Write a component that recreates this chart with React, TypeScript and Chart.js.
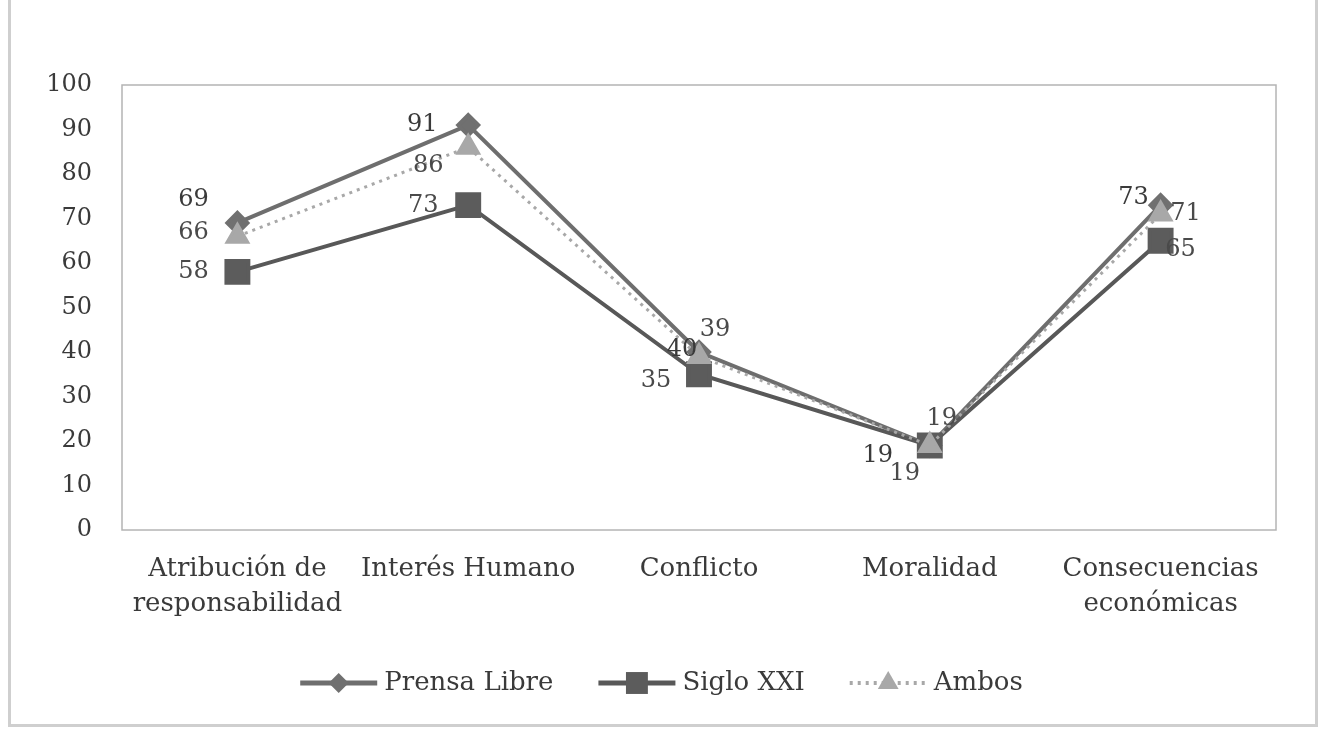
import React, { useEffect, useRef } from 'react';
import { Chart, registerables } from 'chart.js';

Chart.register(...registerables);

const categories: string[][] = [
  ['Atribución de', 'responsabilidad'],
  ['Interés Humano'],
  ['Conflicto'],
  ['Moralidad'],
  ['Consecuencias', 'económicas'],
];
const seriesNames = ['Prensa Libre', 'Siglo XXI', 'Ambos'];
const prensaLibre = [69, 91, 40, 19, 73];
const sigloXXI = [58, 73, 35, 19, 65];
const ambos = [66, 86, 39, 19, 71];
const yMin = 0;
const yMax = 100;
const yStep = 10;

// label offsets (pixels) per series per point, as placed in the reference
const labelOffsets: number[][][] = [
  [[-44, -23], [-46, 0], [-17, -2], [-52, 10], [-27, -7]],
  [[-44, 0], [-45, 1], [-43, 7], [-25, 28], [20, 9]],
  [[-44, -4], [-40, 18], [16, -27], [12, -27], [25, 0]],
];

const FONT = '"DejaVu Serif", "Liberation Serif", serif';
const TEXT = '#3a3a3a';

const frameAndLabels = {
  id: 'frameAndLabels',
  beforeDraw(chart: any) {
    const { ctx, chartArea } = chart;
    ctx.save();
    ctx.fillStyle = '#ffffff';
    ctx.fillRect(0, 0, chart.width, chart.height);
    ctx.strokeStyle = '#cfcfcf';
    ctx.lineWidth = 3;
    ctx.beginPath();
    ctx.moveTo(9.5, 0);
    ctx.lineTo(9.5, 725.5);
    ctx.lineTo(1316.5, 725.5);
    ctx.lineTo(1316.5, 0);
    ctx.stroke();
    ctx.strokeStyle = '#b4b4b4';
    ctx.lineWidth = 1.5;
    ctx.strokeRect(chartArea.left, chartArea.top, chartArea.right - chartArea.left, chartArea.bottom - chartArea.top);
    ctx.restore();
  },
  afterDatasetsDraw(chart: any) {
    const { ctx } = chart;
    ctx.save();
    ctx.font = `24px ${FONT}`;
    ctx.textAlign = 'center';
    ctx.textBaseline = 'middle';
    chart.data.datasets.forEach((ds: any, di: number) => {
      const meta = chart.getDatasetMeta(di);
      meta.data.forEach((pt: any, i: number) => {
        const off = labelOffsets[di][i];
        ctx.fillStyle = ds.labelColor || TEXT;
        ctx.fillText(String(ds.data[i]), pt.x + off[0], pt.y + off[1]);
      });
    });
    ctx.restore();
  },
  afterDraw(chart: any) {
    const { ctx } = chart;
    ctx.save();
    ctx.font = `26px ${FONT}`;
    ctx.textBaseline = 'middle';
    const sampleW = 77;
    const gapText = 7;
    const gapItem = 45;
    const items = chart.data.datasets.map((ds: any) => ({ ds, w: ctx.measureText(ds.label).width }));
    const total = items.reduce((s: number, it: any) => s + sampleW + gapText + it.w, 0) + gapItem * (items.length - 1);
    let x = chart.width / 2 - total / 2;
    const y = 683;
    items.forEach((it: any) => {
      const ds = it.ds;
      ctx.strokeStyle = ds.borderColor;
      ctx.lineWidth = ds.borderWidth + 1;
      ctx.setLineDash(ds.borderDash || []);
      ctx.beginPath();
      ctx.moveTo(x, y);
      ctx.lineTo(x + sampleW, y);
      ctx.stroke();
      ctx.setLineDash([]);
      ctx.fillStyle = ds.pointBackgroundColor;
      drawMarker(ctx, ds.pointStyle, ds.pointRadius, x + sampleW / 2, y);
      ctx.fillStyle = TEXT;
      ctx.textAlign = 'left';
      ctx.fillText(ds.label, x + sampleW + gapText, y);
      x += sampleW + gapText + it.w + gapItem;
    });
    ctx.restore();
  },
};

function drawMarker(ctx: CanvasRenderingContext2D, style: string, r: number, x: number, y: number) {
  ctx.beginPath();
  if (style === 'rect') {
    const s = Math.SQRT1_2 * r;
    ctx.rect(x - s, y - s, 2 * s, 2 * s);
  } else if (style === 'rectRot') {
    ctx.moveTo(x, y - r);
    ctx.lineTo(x + r, y);
    ctx.lineTo(x, y + r);
    ctx.lineTo(x - r, y);
    ctx.closePath();
  } else {
    const a = (2 * Math.PI) / 3;
    ctx.moveTo(x, y - r);
    ctx.lineTo(x + Math.sin(a) * r, y - Math.cos(a) * r);
    ctx.lineTo(x + Math.sin(2 * a) * r, y - Math.cos(2 * a) * r);
    ctx.closePath();
  }
  ctx.fill();
}

export default function App() {
  const ref = useRef<HTMLCanvasElement>(null);
  useEffect(() => {
    if (!ref.current) return;
    const chart = new Chart(ref.current, {
      type: 'line',
      data: {
        labels: categories,
        datasets: [
          {
            label: seriesNames[0],
            data: prensaLibre,
            borderColor: '#6e6e6e',
            backgroundColor: '#6e6e6e',
            pointBackgroundColor: '#707070',
            pointBorderColor: '#707070',
            pointStyle: 'rectRot',
            pointRadius: 10,
            borderWidth: 4,
            order: 2,
            labelColor: '#3a3a3a',
          } as any,
          {
            label: seriesNames[1],
            data: sigloXXI,
            borderColor: '#585858',
            backgroundColor: '#585858',
            pointBackgroundColor: '#5c5c5c',
            pointBorderColor: '#5c5c5c',
            pointStyle: 'rect',
            pointRadius: 15.5,
            borderWidth: 4,
            order: 1,
            labelColor: '#4a4a4a',
          } as any,
          {
            label: seriesNames[2],
            data: ambos,
            borderColor: '#a8a8a8',
            backgroundColor: '#a8a8a8',
            pointBackgroundColor: '#a8a8a8',
            pointBorderColor: '#a8a8a8',
            pointStyle: 'triangle',
            pointRadius: 12,
            borderWidth: 3,
            borderDash: [3, 5],
            order: 0,
            labelColor: '#4a4a4a',
          } as any,
        ],
      },
      options: {
        animation: false,
        responsive: false,
        maintainAspectRatio: false,
        layout: { padding: { left: 0, right: 47, top: 85, bottom: 100 } },
        plugins: {
          legend: { display: false },
          tooltip: { enabled: false },
          title: { display: false },
        },
        elements: { line: { tension: 0 }, point: { borderWidth: 0 } },
        scales: {
          x: {
            offset: true,
            grid: { display: false, drawTicks: false },
            border: { display: false },
            ticks: {
              color: TEXT,
              font: { family: FONT, size: 26, lineHeight: 1.35 },
              padding: 22,
              maxRotation: 0,
              minRotation: 0,
              autoSkip: false,
            },
            afterFit: (s: any) => { s.height = 103; },
          },
          y: {
            min: yMin,
            max: yMax,
            grid: { display: false, drawTicks: false },
            border: { display: false },
            ticks: {
              stepSize: yStep,
              color: TEXT,
              font: { family: FONT, size: 24 },
              padding: 30,
            },
            afterFit: (s: any) => { s.width = 122; },
          },
        },
      } as any,
      plugins: [frameAndLabels],
    });
    return () => chart.destroy();
  }, []);
  return (
    <div style={{ position: 'fixed', left: 0, top: 0, width: 1323, height: 733, background: '#fff' }}>
      <canvas ref={ref} width={1323} height={733} style={{ width: 1323, height: 733, display: 'block' }} />
    </div>
  );
}
